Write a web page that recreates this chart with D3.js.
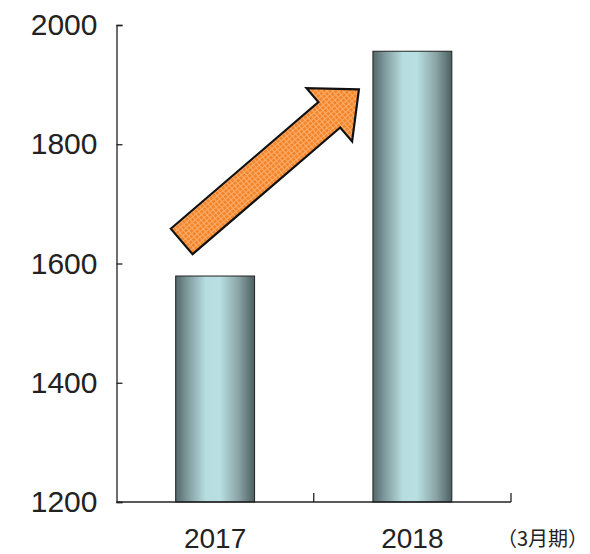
<!DOCTYPE html>
<html>
<head>
<meta charset="utf-8">
<script src="https://cdn.jsdelivr.net/npm/d3@7"></script>
<style>
  body { margin: 0; background: #fff; }
  text { font-family: "Liberation Sans", Arial, sans-serif; fill: #222; }
</style>
</head>
<body>
<div id="chart"></div>
<script>
// データ
const years = ["2017", "2018"];
const values = [1579, 1956];
const yTicks = [1200, 1400, 1600, 1800, 2000];
const unitLabel = "（3月期）";
// 矢印（注記）: 始点と終点
const arrowFrom = { cat: "2017", dx: 6, value: 1637 };
const arrowTo = { cat: "2018", dx: -14, value: 1892 };

const W = 590, H = 554;
const plotL = 116.5, plotR = 511, plotT = 25, plotB = 502;

const svg = d3.select("#chart").append("svg")
  .attr("width", W).attr("height", H);

const defs = svg.append("defs");
const grad = defs.append("linearGradient").attr("id", "barGrad")
  .attr("x1", "0%").attr("x2", "100%").attr("y1", "0%").attr("y2", "0%");
[[0, "#53686a"], [0.14, "#7d979a"], [0.38, "#b7dde0"], [0.56, "#b8dfe2"],
 [0.8, "#8aa3a5"], [1, "#4c5f61"]].forEach(([o, c]) =>
  grad.append("stop").attr("offset", o).attr("stop-color", c));

const pat = defs.append("pattern").attr("id", "dots")
  .attr("patternUnits", "userSpaceOnUse").attr("width", 4).attr("height", 4);
pat.append("rect").attr("width", 4).attr("height", 4).attr("fill", "#f5852a");
pat.append("rect").attr("width", 4).attr("height", 1).attr("fill", "#f9ae6c");
pat.append("rect").attr("width", 1).attr("height", 4).attr("fill", "#f9ae6c");

// スケール
const x = d3.scaleBand().domain(years).range([plotL, plotR])
  .paddingInner(0.6).paddingOuter(0.3);
const y = d3.scaleLinear().domain([1200, 2000]).range([plotB, plotT]);

// 棒
svg.selectAll("rect.bar").data(years).enter().append("rect")
  .attr("class", "bar")
  .attr("x", d => x(d))
  .attr("y", (d, i) => y(values[i]))
  .attr("width", x.bandwidth())
  .attr("height", (d, i) => y(1200) - y(values[i]))
  .attr("fill", "url(#barGrad)")
  .attr("stroke", "#222").attr("stroke-width", 1);

// Y軸
const yAxis = svg.append("g")
  .attr("transform", `translate(${plotL},0)`)
  .call(d3.axisLeft(y).tickValues(yTicks).tickSize(-6).tickPadding(19)
    .tickFormat(d3.format("d")));
yAxis.select(".domain").attr("stroke", "#222").attr("stroke-width", 1.3);
yAxis.selectAll(".tick line").attr("stroke", "#222").attr("stroke-width", 1.3);
yAxis.selectAll("text").attr("font-size", 30).attr("fill", "#2a2a2a")
  .style("font-family", "'Liberation Sans', Arial, sans-serif");

// X軸
const step = x.step();
svg.append("line")
  .attr("x1", plotL).attr("x2", plotR).attr("y1", plotB).attr("y2", plotB)
  .attr("stroke", "#222").attr("stroke-width", 1.3);
svg.selectAll("line.xtick").data(years).enter().append("line")
  .attr("class", "xtick")
  .attr("x1", d => x(d) + x.bandwidth() + (step - x.bandwidth()) / 2)
  .attr("x2", d => x(d) + x.bandwidth() + (step - x.bandwidth()) / 2)
  .attr("y1", plotB).attr("y2", plotB - 9)
  .attr("stroke", "#222").attr("stroke-width", 1.3);
svg.selectAll("text.xlab").data(years).enter().append("text")
  .attr("class", "xlab")
  .attr("x", d => x(d) + x.bandwidth() / 2)
  .attr("y", 548)
  .attr("text-anchor", "middle")
  .attr("font-size", 28)
  .attr("fill", "#2a2a2a")
  .text(d => d);

svg.append("text")
  .attr("x", 588).attr("y", 546)
  .attr("text-anchor", "end")
  .attr("font-size", 20)
  .style("font-family", "'Noto Sans CJK JP', sans-serif")
  .text(unitLabel);

// 矢印
const p0 = [x(arrowFrom.cat) + arrowFrom.dx, y(arrowFrom.value)];
const p1 = [x(arrowTo.cat) + arrowTo.dx, y(arrowTo.value)];
const len = Math.hypot(p1[0] - p0[0], p1[1] - p0[1]);
const ang = Math.atan2(p1[1] - p0[1], p1[0] - p0[0]) * 180 / Math.PI;
const shaftW = 33.5, headW = 70, headL = 39;
const arrowPts = [
  [0, -shaftW / 2], [len - headL, -shaftW / 2], [len - headL, -headW / 2],
  [len, 0], [len - headL, headW / 2], [len - headL, shaftW / 2], [0, shaftW / 2]
];
svg.append("path")
  .attr("transform", `translate(${p0[0]},${p0[1]}) rotate(${ang})`)
  .attr("d", d3.line()(arrowPts) + "Z")
  .attr("fill", "url(#dots)")
  .attr("stroke", "#111").attr("stroke-width", 2.2)
  .attr("stroke-linejoin", "miter");
</script>
</body>
</html>
